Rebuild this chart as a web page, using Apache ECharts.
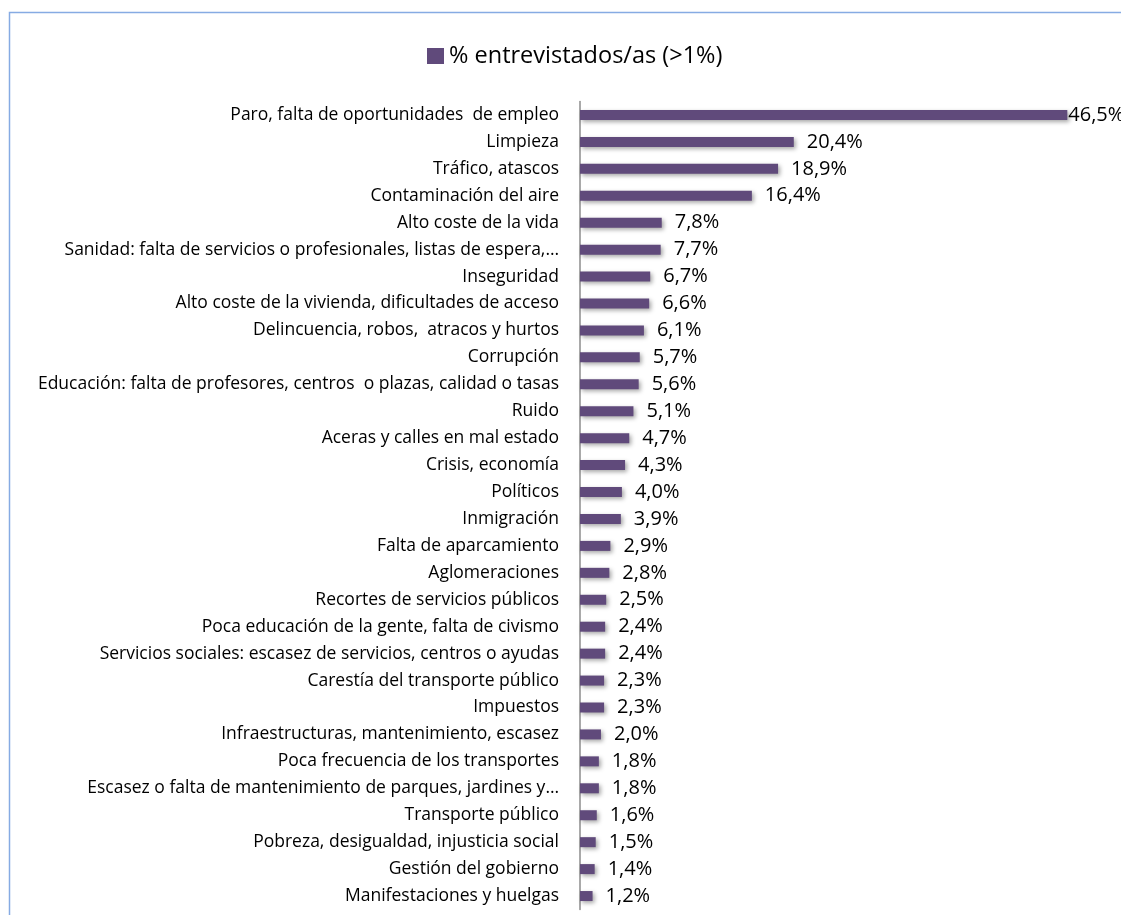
<!DOCTYPE html>
<html><head><meta charset="utf-8">
<script src="https://cdn.jsdelivr.net/npm/echarts@6/dist/echarts.min.js"></script>
<style>html,body{margin:0;padding:0;background:#fff}#c{width:1121px;height:915px}</style>
</head><body><div id="c"></div>
<script>
const categories = [
"Paro, falta de oportunidades  de empleo","Limpieza","Tráfico, atascos","Contaminación del aire","Alto coste de la vida",
"Sanidad: falta de servicios o profesionales, listas de espera,…","Inseguridad","Alto coste de la vivienda, dificultades de acceso",
"Delincuencia, robos,  atracos y hurtos","Corrupción","Educación: falta de profesores, centros  o plazas, calidad o tasas",
"Ruido","Aceras y calles en mal estado","Crisis, economía","Políticos","Inmigración","Falta de aparcamiento","Aglomeraciones",
"Recortes de servicios públicos","Poca educación de la gente, falta de civismo","Servicios sociales: escasez de servicios, centros o ayudas",
"Carestía del transporte público","Impuestos","Infraestructuras, mantenimiento, escasez","Poca frecuencia de los transportes",
"Escasez o falta de mantenimiento de parques, jardines y…","Transporte público","Pobreza, desigualdad, injusticia social",
"Gestión del gobierno","Manifestaciones y huelgas"];
const values = [46.5,20.4,18.9,16.4,7.8,7.7,6.7,6.6,6.1,5.7,5.6,5.1,4.7,4.3,4.0,3.9,2.9,2.8,2.5,2.4,2.4,2.3,2.3,2.0,1.8,1.8,1.6,1.5,1.4,1.2];
const seriesName = "% entrevistados/as (>1%)";

const chart = echarts.init(document.getElementById('c'), null, {renderer:'canvas'});
const FONT = 'Open Sans';
chart.setOption({
  animation:false,
  graphic:[{type:'rect',shape:{x:9.5,y:12.5,width:1200,height:1000},style:{fill:'none',stroke:'#86ABE3',lineWidth:1.5},z:-1}],
  legend:{left:422,top:39,itemWidth:17,itemHeight:16,itemGap:6,icon:'rect',
    textStyle:{fontFamily:FONT,fontSize:23.5,color:'#000'},data:[seriesName]},
  grid:{left:580,right:17,top:101.5,bottom:5.5,containLabel:false},
  xAxis:{type:'value',min:0,max:50,show:false},
  yAxis:{type:'category',inverse:true,data:categories,
    axisLine:{lineStyle:{color:'#8c8c8c',width:1.5}},axisTick:{show:false},
    axisLabel:{fontFamily:FONT,fontSize:17.5,color:'#000',margin:21,padding:[2,0,0,0]}},
  series:[{name:seriesName,type:'bar',barWidth:10,
    itemStyle:{color:'#604A7B',shadowColor:'rgba(0,0,0,0.35)',shadowBlur:4,shadowOffsetX:2,shadowOffsetY:2},
    label:{show:true,position:'right',distance:13,fontFamily:FONT,fontSize:20,color:'#000',padding:[4,0,0,0],
      formatter:p=>p.value.toFixed(1).replace('.',',')+'%'},
    data:values.map((v,i)=>i===0?{value:v,label:{distance:1}}:v)}]
});
</script></body></html>
